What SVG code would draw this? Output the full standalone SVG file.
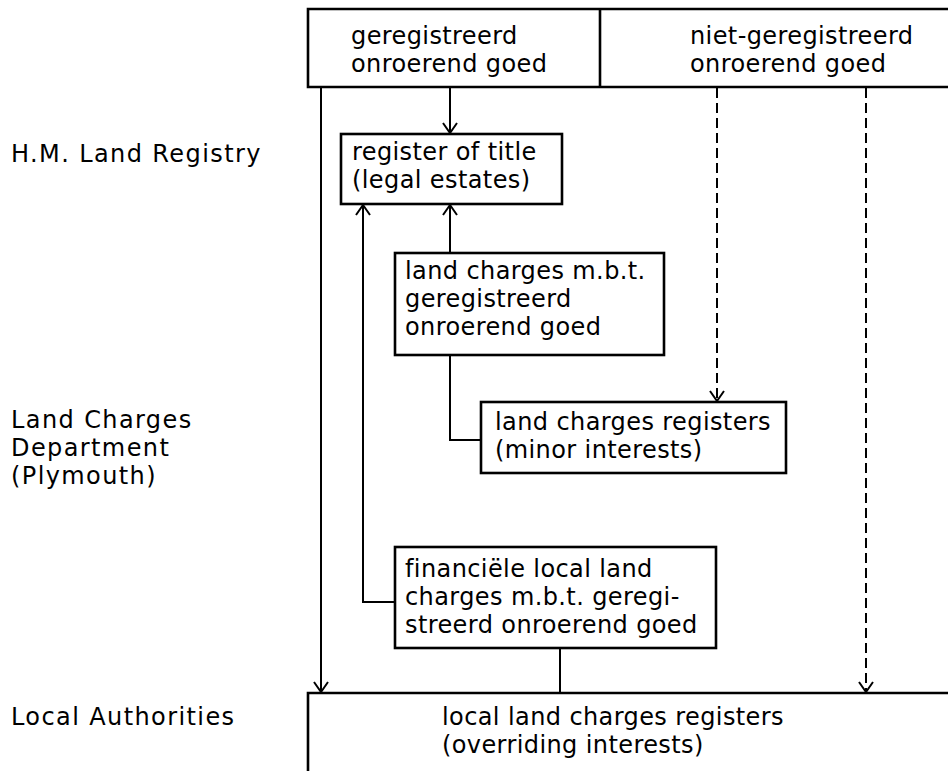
<svg xmlns="http://www.w3.org/2000/svg" width="948" height="771" viewBox="0 0 948 771">
<style>
text{font-family:"DejaVu Sans","Noto Sans",sans-serif;font-size:24px;letter-spacing:0.4px;fill:#000}
.lbl{letter-spacing:1.4px}
.box{fill:#fff;stroke:#000;stroke-width:2.6}
.ln{fill:none;stroke:#000;stroke-width:2}
.dash{fill:none;stroke:#000;stroke-width:2;stroke-dasharray:10 5}
</style>
<defs>
<marker id="arr" viewBox="-12 -9 14 18" markerWidth="14" markerHeight="18" refX="0" refY="0" markerUnits="userSpaceOnUse" orient="auto">
<path d="M-10,-7 L0,0 L-10,7" fill="none" stroke="#000" stroke-width="2"/>
</marker>
</defs>
<rect width="948" height="771" fill="#fff"/>
<g id="labels">
<text class="lbl" x="11" y="162">H.M. Land Registry</text>
<text class="lbl" x="11" y="428">Land Charges</text>
<text class="lbl" x="11" y="456">Department</text>
<text class="lbl" x="11" y="484">(Plymouth)</text>
<text class="lbl" x="11" y="725">Local Authorities</text>
</g>
<g id="connectors">
<path class="ln" d="M321,87 V692" marker-end="url(#arr)"/>
<path class="ln" d="M450,87 V133" marker-end="url(#arr)"/>
<path class="ln" d="M395,602 H363 V205" marker-end="url(#arr)"/>
<path class="ln" d="M450,253 V205" marker-end="url(#arr)"/>
<path class="ln" d="M450,355 V440 H481"/>
<path class="dash" d="M717,88 V401" marker-end="url(#arr)"/>
<path class="dash" d="M866,88 V692" marker-end="url(#arr)"/>
<path class="ln" d="M560,648 V693"/>
</g>
<g id="top-header">
<path class="box" d="M950,9 H308 V87 H950"/>
<path class="box" d="M600,9 V87"/>
<text x="351" y="44">geregistreerd</text>
<text x="351" y="72">onroerend goed</text>
<text x="690" y="44">niet-geregistreerd</text>
<text x="690" y="72">onroerend goed</text>
</g>
<g id="register-of-title">
<rect class="box" x="341" y="134" width="221" height="70"/>
<text x="352" y="160">register of title</text>
<text x="352" y="188">(legal estates)</text>
</g>
<g id="land-charges-registered">
<rect class="box" x="395" y="253" width="269" height="102"/>
<text x="405" y="279">land charges m.b.t.</text>
<text x="405" y="307">geregistreerd</text>
<text x="405" y="335">onroerend goed</text>
</g>
<g id="land-charges-registers">
<rect class="box" x="481" y="402" width="305" height="71"/>
<text x="495" y="430">land charges registers</text>
<text x="495" y="458">(minor interests)</text>
</g>
<g id="financial-local-land-charges">
<rect class="box" x="395" y="547" width="321" height="101"/>
<text x="405" y="577">financiële local land</text>
<text x="405" y="605">charges m.b.t. geregi-</text>
<text x="405" y="633">streerd onroerend goed</text>
</g>
<g id="local-land-charges-registers">
<path class="box" d="M950,693 H308 V775"/>
<text x="442" y="725">local land charges registers</text>
<text x="442" y="753">(overriding interests)</text>
</g>
</svg>
